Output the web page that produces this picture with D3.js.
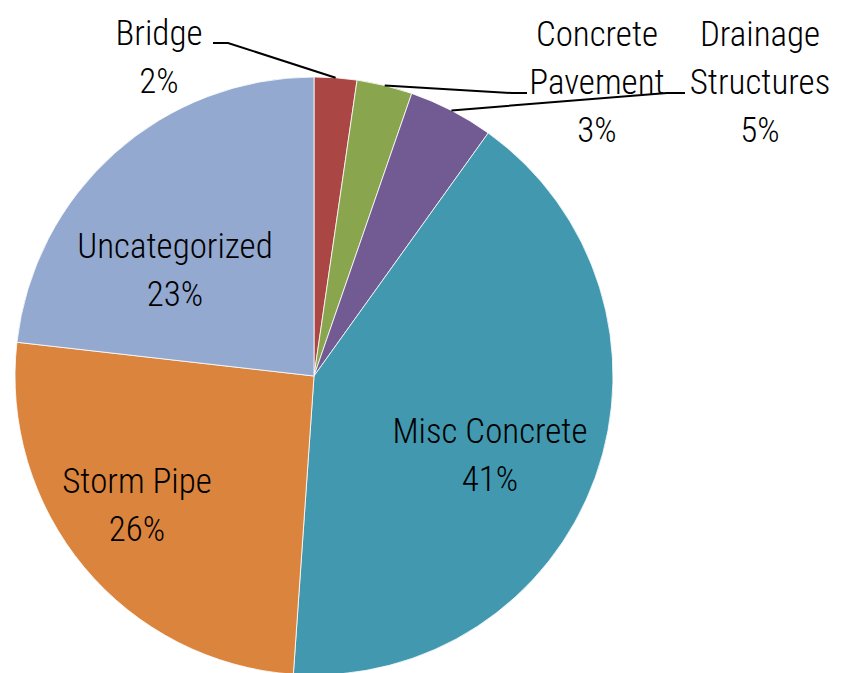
<!DOCTYPE html>
<html><head><meta charset="utf-8">
<script src="https://cdn.jsdelivr.net/npm/d3@7"></script>
<style>
html,body{margin:0;padding:0;background:#fff;}
text{font-family:"Roboto Condensed","Liberation Sans Narrow","Arial Narrow",sans-serif;font-weight:300;font-size:35px;fill:#000;}
</style></head>
<body>
<svg id="chart" width="848" height="673"></svg>
<script>
const categories = ["Bridge","Concrete Pavement","Drainage Structures","Misc Concrete","Storm Pipe","Uncategorized"];
const values = [2.3, 3.0, 4.6, 41.2, 25.7, 23.2];
const colors = ["#AA4643","#89A54E","#725A92","#4198AF","#DB843D","#93A9CF"];
const labelLines = [["Bridge"],["Concrete","Pavement"],["Drainage","Structures"],["Misc Concrete"],["Storm Pipe"],["Uncategorized"]];

// layout (label anchor positions: x center, first baseline; leader elbow & end)
const layout = [
  {x:159, y:45, outside:true, elbow:[228,43], end:[213,43]},
  {x:597, y:46, outside:true, elbow:[512,93], end:[527,93]},
  {x:760, y:46, outside:true, elbow:[667,93], end:[685,93]},
  {x:490, y:443},
  {x:137, y:493},
  {x:175, y:258}
];
const lineGap = 48;

const svg = d3.select("#chart");
const cx = 314, cy = 376, R = 299;
const g = svg.append("g").attr("transform", `translate(${cx},${cy})`);

const data = categories.map((c,i)=>({name:c, value:values[i], color:colors[i], lines:labelLines[i], lay:layout[i]}));
const pie = d3.pie().value(d=>d.value).sort(null).startAngle(0).endAngle(2*Math.PI);
const arcs = pie(data);
const arc = d3.arc().innerRadius(0).outerRadius(R);

g.selectAll("path.slice").data(arcs).join("path")
  .attr("class","slice")
  .attr("d", arc)
  .attr("fill", d=>d.data.color)
  .attr("stroke","#fff").attr("stroke-width",0.8);

// leader lines
arcs.filter(d=>d.data.lay.outside).forEach(d=>{
  const a = (d.startAngle+d.endAngle)/2;
  const p0 = [cx + R*Math.sin(a), cy - R*Math.cos(a)];
  svg.append("polyline")
    .attr("points", [p0, d.data.lay.elbow, d.data.lay.end].map(p=>p.join(",")).join(" "))
    .attr("fill","none").attr("stroke","#000").attr("stroke-width",2);
});

// labels
arcs.forEach(d=>{
  const L = d.data.lay;
  const pct = Math.round(d.data.value) + "%";
  const lines = d.data.lines.concat([pct]);
  const t = svg.append("text").attr("text-anchor","middle");
  lines.forEach((s,k)=>{
    t.append("tspan").attr("x", L.x).attr("y", L.y + k*lineGap).text(s);
  });
});
</script>
</body></html>
